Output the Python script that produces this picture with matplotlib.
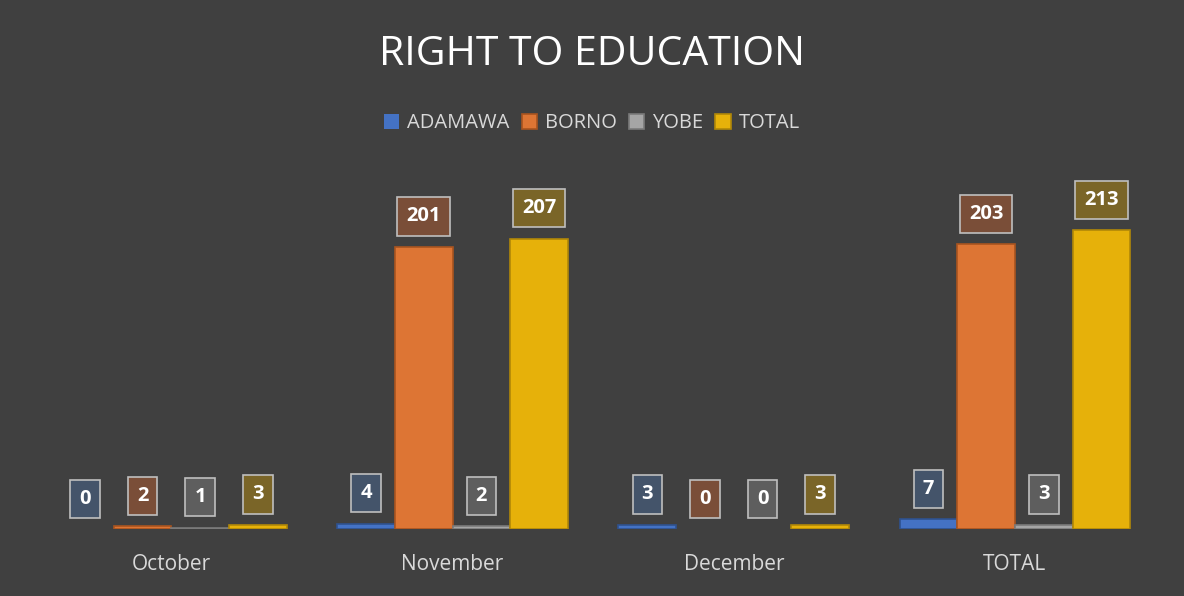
import matplotlib
matplotlib.use("Agg")
import matplotlib.pyplot as plt
import numpy as np

categories = ["October", "November", "December", "TOTAL"]
series_names = ["ADAMAWA", "BORNO", "YOBE", "TOTAL"]
adamawa = [0, 4, 3, 7]
borno = [2, 201, 0, 203]
yobe = [1, 2, 0, 3]
total = [3, 207, 3, 213]
values = [adamawa, borno, yobe, total]

bar_colors = ["#4472C4", "#DD7534", "#A5A5A5", "#E6B10A"]
edge_colors = ["#2F528F", "#A9541F", "#7A7A7A", "#B08708"]
box_colors = ["#44546A", "#7A4E38", "#5E5E5E", "#7A6528"]

plt.rcParams['font.family'] = ['Open Sans', 'DejaVu Sans']
bg = "#404040"
fig = plt.figure(figsize=(11.84, 5.96), dpi=100, facecolor=bg)
ax = fig.add_axes([0.026, 0.112, 0.950, 0.589], facecolor=bg)

x = np.arange(len(categories))
w = 0.205
for i, (name, vals) in enumerate(zip(series_names, values)):
    pos = x + (i - 1.5) * w
    lws = [1.2 if v > 0 else 0 for v in vals]
    ax.bar(pos, vals, width=w, color=bar_colors[i], edgecolor=edge_colors[i],
           linewidth=lws, label=name, zorder=2)
    for p, v in zip(pos, vals):
        ax.annotate(str(v), (p, v), xytext=(0, 22), textcoords="offset points",
                    ha="center", va="center", color="white", fontsize=14.5,
                    fontweight="bold", zorder=5,
                    bbox=dict(boxstyle="square,pad=0.45", fc=box_colors[i],
                              ec="#BFBFBF", lw=1.2))

ax.set_xlim(-0.5, 3.5)
ax.set_ylim(0, 250)
ax.set_xticks(x)
ax.set_xticklabels(categories, color="#D9D9D9", fontsize=15)
ax.tick_params(axis="x", length=0, pad=18)
ax.set_yticks([])
for s in ax.spines.values():
    s.set_visible(False)

fig.text(0.5, 0.908, "RIGHT TO EDUCATION", ha="center", va="center",
         color="white", fontsize=29.5)
leg = fig.legend(loc="center", bbox_to_anchor=(0.5, 0.793), ncol=4,
                 frameon=False, fontsize=14.5, handlelength=0.75, handleheight=0.75,
                 handletextpad=0.4, columnspacing=0.6)
for t in leg.get_texts():
    t.set_color("#D9D9D9")

fig.savefig("out.png", dpi=100, facecolor=bg)
